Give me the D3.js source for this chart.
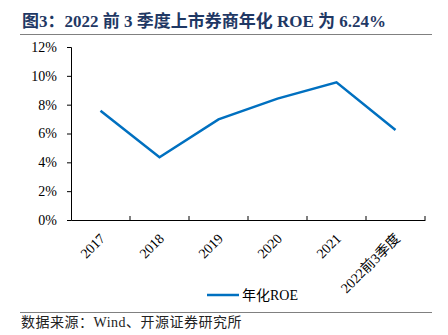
<!DOCTYPE html>
<html>
<head>
<meta charset="utf-8">
<script src="https://cdn.jsdelivr.net/npm/d3@7/dist/d3.min.js"></script>
<style>
  html, body { margin: 0; padding: 0; background: #fff; }
  svg { display: block; }
</style>
</head>
<body>
<svg id="chart" width="448" height="335"></svg>
<script>
// Annualised ROE of listed brokers
const categories = ["2017", "2018", "2019", "2020", "2021", "2022前3季度"];
const roeValues = [7.58, 4.35, 6.98, 8.42, 9.55, 6.24];
const yTicks = [0, 2, 4, 6, 8, 10, 12];
const seriesName = "年化ROE";
const titleText = "图3：2022 前 3 季度上市券商年化 ROE 为 6.24%";
const sourceText = "数据来源：Wind、开源证券研究所";

const serif = "'Liberation Serif', 'Times New Roman', 'Noto Sans CJK SC', serif";
const svg = d3.select("#chart");

const margin = { left: 71, right: 23, top: 47, bottom: 115 };
const W = 448, H = 335;

const x = d3.scaleBand().domain(categories).range([margin.left, W - margin.right]);
const y = d3.scaleLinear().domain([0, 12]).range([H - margin.bottom, margin.top]);

// Title
svg.append("text")
  .attr("x", 22).attr("y", 27)
  .attr("font-family", serif)
  .attr("font-weight", "bold")
  .attr("font-size", 17)
  .attr("fill", "#1F3864")
  .text(titleText);
svg.append("line")
  .attr("x1", 20).attr("x2", 432).attr("y1", 34.5).attr("y2", 34.5)
  .attr("stroke", "#808080").attr("stroke-width", 1);

// Y axis
const yAxis = svg.append("g")
  .attr("transform", `translate(${margin.left},0)`)
  .call(d3.axisLeft(y).tickValues(yTicks).tickSize(4).tickFormat(d => d + "%"));
yAxis.select(".domain").attr("stroke", "#000");
yAxis.selectAll(".tick line").attr("stroke", "#000");
yAxis.selectAll("text")
  .attr("font-family", serif).attr("font-size", 14).attr("fill", "#000")
  .attr("x", -14);

// X axis with ticks at band boundaries
const xAxisG = svg.append("g").attr("transform", `translate(0,${y(0)})`);
xAxisG.call(d3.axisBottom(x).tickSize(0).tickFormat(""));
xAxisG.select(".domain").attr("stroke", "#000");
const bounds = categories.map(c => x(c)).concat([x(categories[categories.length - 1]) + x.bandwidth()]);
xAxisG.selectAll(".bound").data(bounds.slice(1)).enter().append("line")
  .attr("class", "bound")
  .attr("x1", d => d).attr("x2", d => d)
  .attr("y1", 0).attr("y2", -4)
  .attr("stroke", "#000");
xAxisG.selectAll(".xlab").data(categories).enter().append("text")
  .attr("class", "xlab")
  .attr("transform", d => `translate(${x(d) + x.bandwidth() / 2 + 2},${16}) rotate(-45)`)
  .attr("text-anchor", "end")
  .attr("dy", "0.35em")
  .attr("font-family", serif).attr("font-size", 14).attr("fill", "#000")
  .text(d => d);

// Line
const line = d3.line()
  .x((d, i) => x(categories[i]) + x.bandwidth() / 2)
  .y(d => y(d));
svg.append("path")
  .datum(roeValues)
  .attr("d", line)
  .attr("fill", "none")
  .attr("stroke", "#0070C0")
  .attr("stroke-width", 2.5)
  .attr("stroke-linejoin", "miter");

// Legend
svg.append("line")
  .attr("x1", 207).attr("x2", 239).attr("y1", 295).attr("y2", 295)
  .attr("stroke", "#0070C0").attr("stroke-width", 2.5);
svg.append("text")
  .attr("x", 242).attr("y", 300)
  .attr("font-family", serif).attr("font-size", 14).attr("fill", "#000")
  .text(seriesName);

// Source note
svg.append("line")
  .attr("x1", 20).attr("x2", 432).attr("y1", 312.5).attr("y2", 312.5)
  .attr("stroke", "#808080").attr("stroke-width", 1);
svg.append("text")
  .attr("x", 21).attr("y", 327)
  .attr("font-family", serif).attr("font-size", 14).attr("letter-spacing", 0.5).attr("fill", "#222")
  .text(sourceText);
</script>
</body>
</html>
